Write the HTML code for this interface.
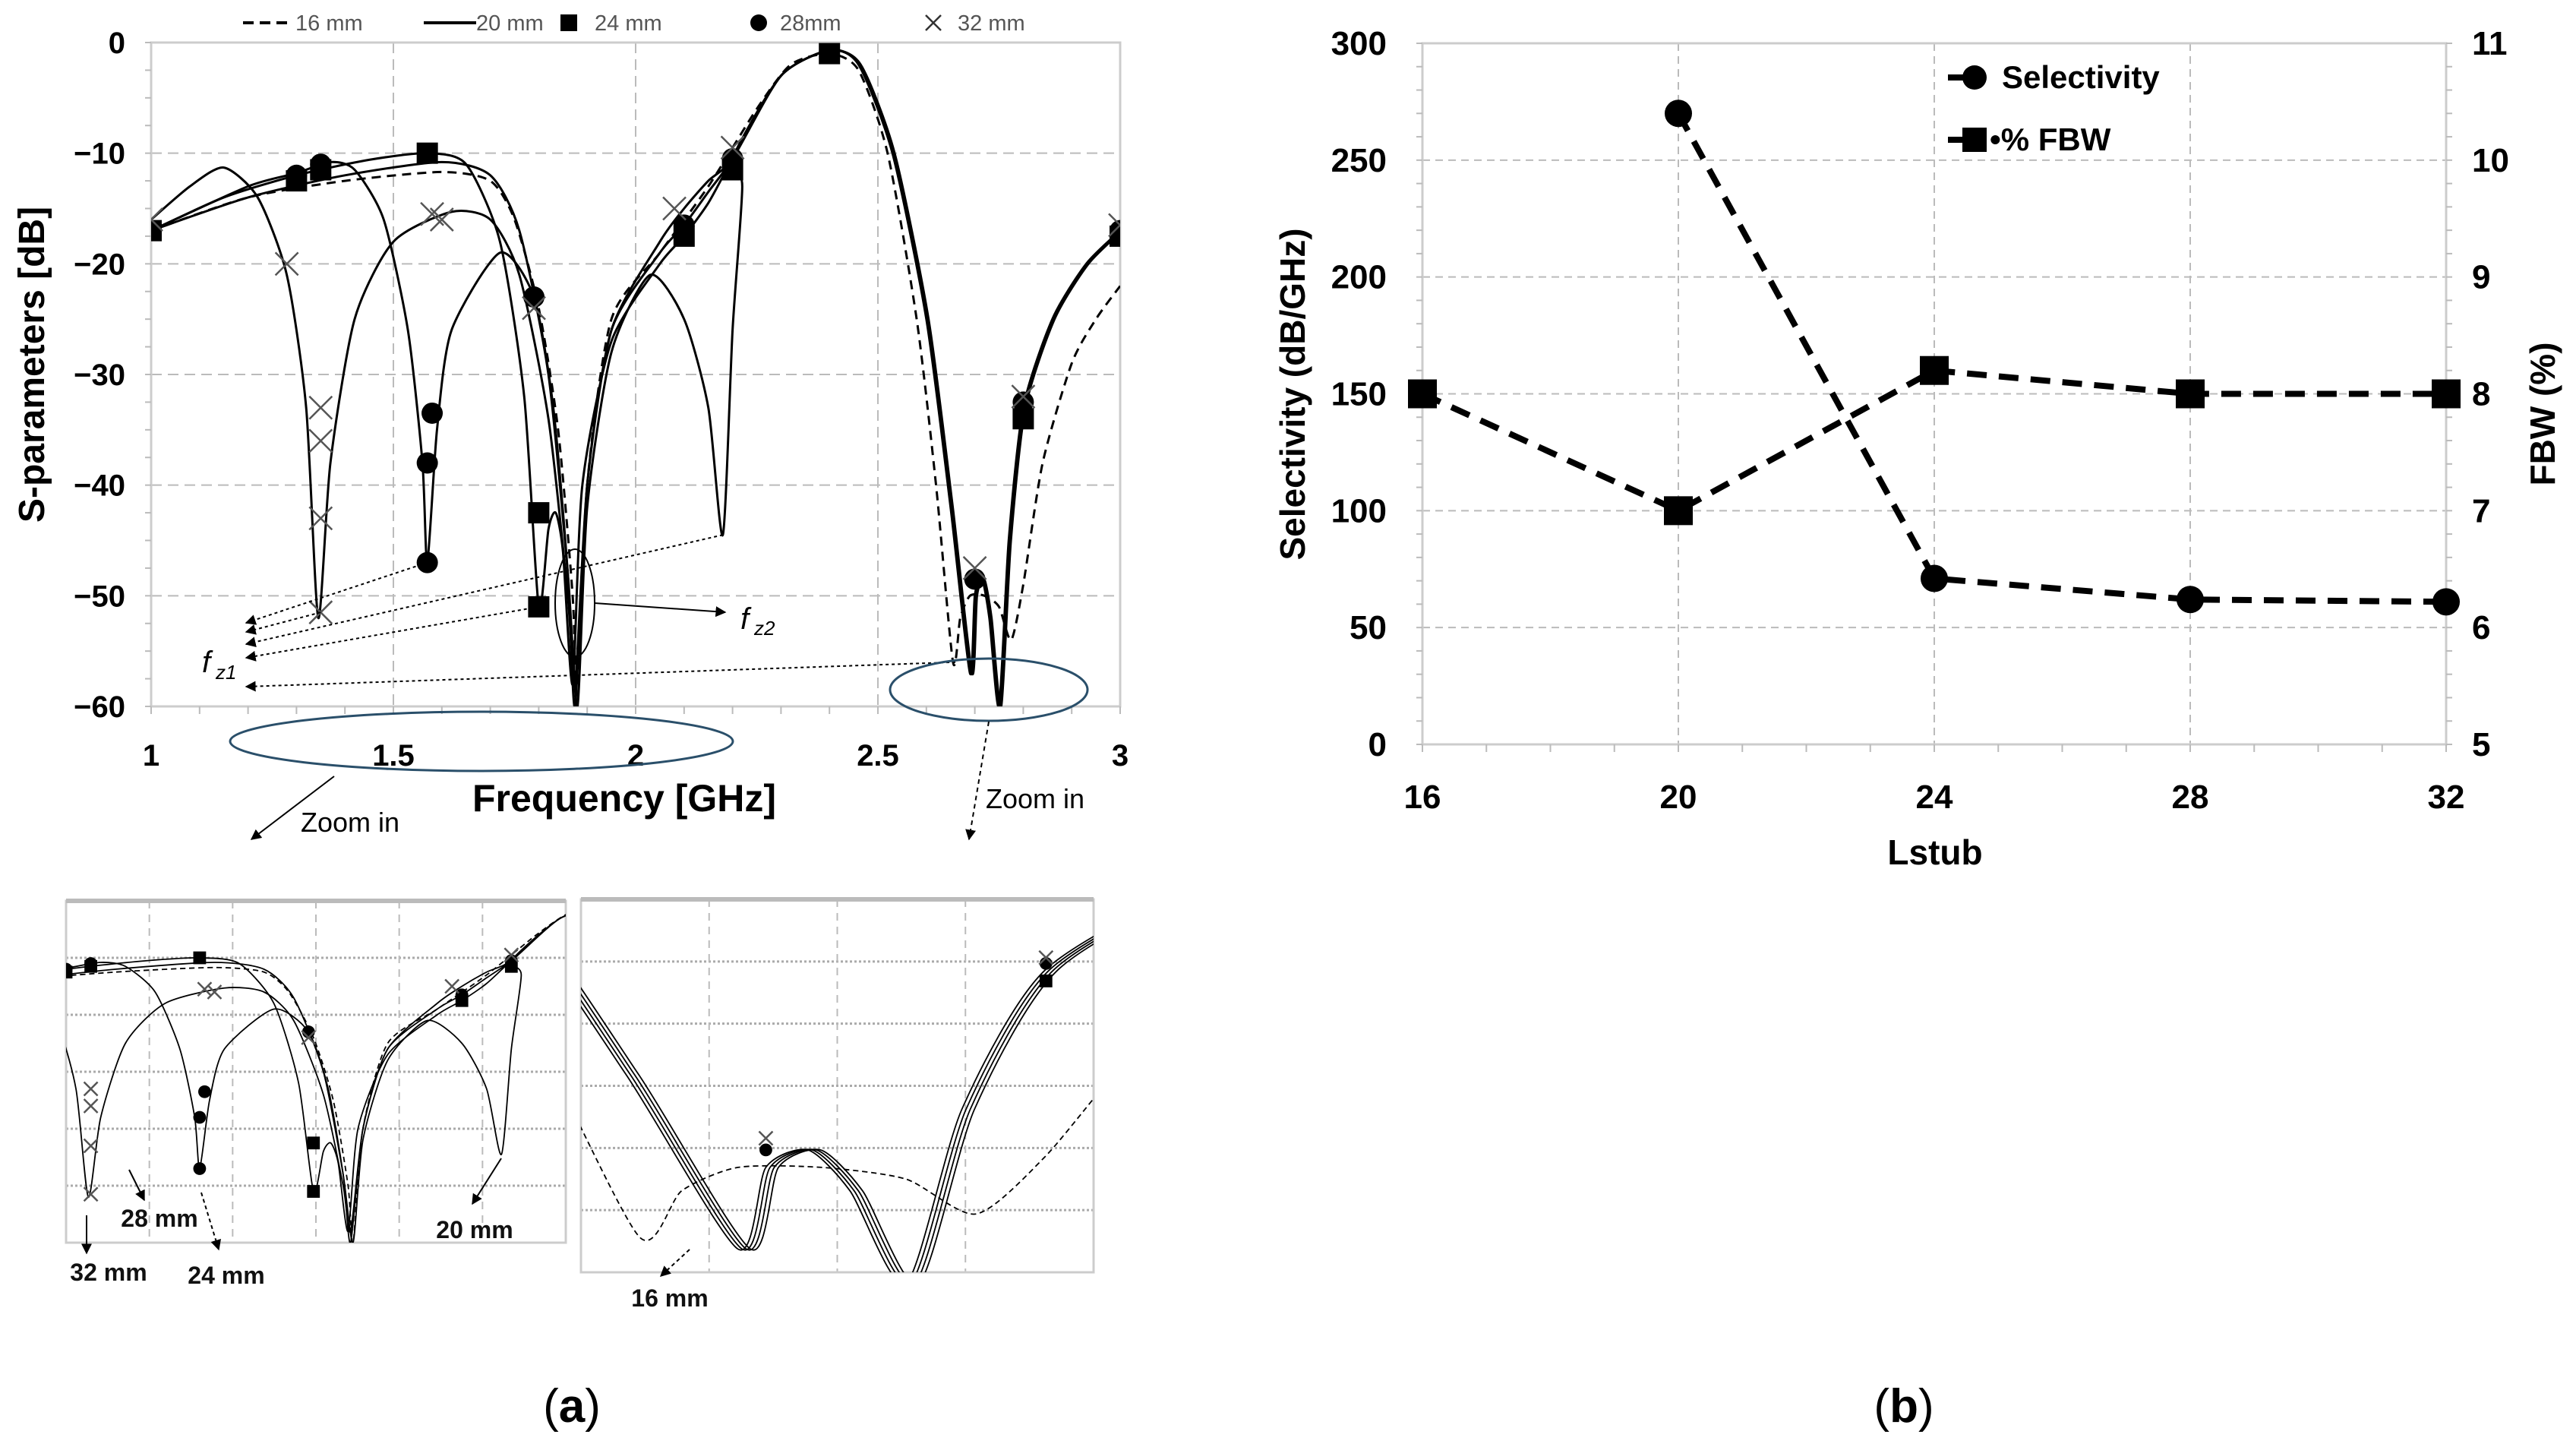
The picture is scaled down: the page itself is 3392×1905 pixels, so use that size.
<!DOCTYPE html>
<html><head><meta charset="utf-8"><style>
html,body{margin:0;padding:0;background:#fff}
svg{display:block}
text{font-family:"Liberation Sans",sans-serif}
</style></head><body>
<svg id="svg" width="3392" height="1905" viewBox="0 0 3392 1905" xmlns="http://www.w3.org/2000/svg">
<defs>
<marker id="ah" viewBox="0 0 10 10" refX="9" refY="5" markerWidth="7" markerHeight="7" orient="auto"><path d="M0,0L10,5L0,10z" fill="#000"/></marker>
<clipPath id="clipA"><rect x="199" y="40" width="1276" height="890"/></clipPath>
<clipPath id="clipL"><rect x="87" y="1186" width="658" height="450"/></clipPath>
<clipPath id="clipR"><rect x="765" y="1184" width="675" height="491"/></clipPath>
</defs>
<g id="gA"></g>
<g id="gL"></g>
<g id="gR"></g>
<g id="gB"></g>
<text x="753" y="1872" font-size="62" text-anchor="middle" font-family="Liberation Serif">(<tspan font-weight="bold">a</tspan>)</text>
<text x="2507" y="1872" font-size="62" text-anchor="middle" font-family="Liberation Serif">(<tspan font-weight="bold">b</tspan>)</text>
</svg>
<script>
// ---- Chart (a) data ----
const tail = [[2.2,-10.5],[2.3,-3],[2.4,-0.7],[2.46,-2],[2.53,-10],[2.6,-25],[2.65,-42],[2.69,-57],[2.7,-50],[2.715,-48.5],[2.73,-52],[2.75,-60],[2.77,-45],[2.8,-33],[2.86,-25],[2.93,-20],[3,-17]];
const s16 = [[1,-17],[1.2,-14],[1.4,-12.5],[1.6,-11.7],[1.7,-12.5],[1.75,-16],[1.8,-24],[1.84,-35],[1.87,-50],[1.88,-60],[1.9,-40],[1.95,-25],[2.05,-19],[2.15,-13],[2.25,-6],[2.32,-2],[2.4,-1],[2.46,-2.5],[2.52,-10],[2.58,-25],[2.62,-40],[2.655,-56],[2.67,-52],[2.69,-50],[2.72,-50],[2.75,-51],[2.775,-54],[2.8,-49],[2.84,-38],[2.9,-29],[2.95,-25],[3,-22]];
const s20 = [[1,-17],[1.2,-14],[1.4,-12],[1.6,-10.8],[1.7,-12],[1.76,-17],[1.82,-30],[1.86,-48],[1.88,-60],[1.9,-42],[1.95,-28],[2.03,-21],[2.1,-25],[2.15,-33],[2.18,-44.5],[2.2,-26],[2.22,-13]];
const s24 = [[1,-17],[1.15,-14],[1.3,-12],[1.45,-10.6],[1.57,-10],[1.65,-11],[1.72,-18],[1.77,-32],[1.8,-51],[1.82,-44],[1.835,-42.5],[1.85,-46],[1.87,-58],[1.89,-40],[1.95,-27],[2.05,-20],[2.1,-17.5],[2.15,-14.5]];
const s28 = [[1,-17],[1.2,-13],[1.3,-11.8],[1.37,-10.8],[1.42,-11.5],[1.48,-16],[1.53,-26],[1.56,-38],[1.57,-47],[1.59,-35],[1.62,-26],[1.72,-19],[1.79,-23],[1.83,-33],[1.86,-48],[1.875,-60],[1.9,-40],[1.95,-26],[2.05,-19],[2.1,-16.5],[2.15,-13.5]];
const s32 = [[1,-16],[1.08,-13],[1.15,-11.3],[1.22,-14],[1.28,-21],[1.32,-33],[1.345,-52],[1.37,-38],[1.42,-25],[1.5,-18],[1.62,-15.3],[1.7,-16],[1.76,-21],[1.82,-34],[1.86,-50],[1.875,-58],[1.9,-40],[1.95,-26],[2.05,-18],[2.1,-15],[2.15,-12.5]];
const sqMarks = [[1,-17],[1.3,-12.5],[1.35,-11.5],[1.57,-10],[1.8,-42.5],[1.8,-51],[2.1,-17.5],[2.2,-11.5],[2.4,-1],[2.8,-34],[3,-17.5]];
const ciMarks = [[1.3,-12],[1.35,-11],[1.57,-38],[1.58,-33.5],[1.57,-47],[1.79,-23],[2.1,-16.5],[2.2,-10.5],[2.7,-48.5],[2.8,-32.5],[3,-17]];
const xMarks = [[1,-16],[1.28,-20],[1.35,-33],[1.35,-36],[1.35,-43],[1.35,-51.5],[1.58,-15.5],[1.6,-16],[1.79,-24],[2.08,-15],[2.2,-9.5],[2.7,-47.5],[2.8,-32],[3,-16.5]];
const xTicksA = [1,1.5,2,2.5,3];
const yTicksA = [0,-10,-20,-30,-40,-50,-60];
// ---- Chart (b) data ----
const lstub = [16,20,24,28,32];
const selectivity = [null,270,71,62,61];
const fbw = [8,7,8.2,8,8];
const yTicksB = [0,50,100,150,200,250,300];
const yTicksR = [5,6,7,8,9,10,11];

const NS="http://www.w3.org/2000/svg";
function el(p,tag,at,txt){const e=document.createElementNS(NS,tag);for(const k in at)e.setAttribute(k,at[k]);if(txt!==undefined)e.textContent=txt;p.appendChild(e);return e;}
function smooth(pts){let d="M"+pts[0][0]+","+pts[0][1];for(let i=0;i<pts.length-1;i++){const p0=pts[Math.max(0,i-1)],p1=pts[i],p2=pts[i+1],p3=pts[Math.min(pts.length-1,i+2)];const t=0.12;d+=" C"+(p1[0]+(p2[0]-p0[0])*t)+","+(p1[1]+(p2[1]-p0[1])*t)+" "+(p2[0]-(p3[0]-p1[0])*t)+","+(p2[1]-(p3[1]-p1[1])*t)+" "+p2[0]+","+p2[1];}return d;}
function shiftTail(k){return tail.map(q=>[q[0]>2.45?q[0]+k*0.0015:q[0],q[1]]);}
function drawSeries(g,X,Y,sc){
  const defs=[[s16,"16",true],[s20.concat(shiftTail(0)),"20",false],[s24.concat(shiftTail(1)),"24",false],[s28.concat(shiftTail(2)),"28",false],[s32.concat(shiftTail(3)),"32",false]];
  defs.forEach(([s,n,dash])=>{const p=el(g,"path",{d:smooth(s.map(q=>[X(q[0]),Y(q[1])])),fill:"none",stroke:"#000","stroke-width":3*sc,"stroke-dasharray":dash?(12*sc)+","+(8*sc):"none"});
  
  });
  sqMarks.forEach(m=>{const r=el(g,"rect",{x:X(m[0])-14*sc,y:Y(m[1])-14*sc,width:28*sc,height:28*sc,fill:"#000"});
  
  });
  ciMarks.forEach(m=>{const c=el(g,"circle",{cx:X(m[0]),cy:Y(m[1]),r:14*sc,fill:"#000"});
  
  });
  xMarks.forEach(m=>{const x=X(m[0]),y=Y(m[1]),s=15*sc;const c=el(g,"path",{d:`M${x-s},${y-s}L${x+s},${y+s}M${x-s},${y+s}L${x+s},${y-s}`,stroke:"#555","stroke-width":2.5});
  
  });
}
// ---- Chart (a) ----
const gA=document.getElementById('gA');
const XA=f=>199+(f-1)/2*1276, YA=v=>56+(-v)/60*874;
[-10,-20,-30,-40,-50].forEach(v=>el(gA,"line",{x1:199,x2:1475,y1:YA(v),y2:YA(v),stroke:"#bbb","stroke-width":2,"stroke-dasharray":"14,8"}));
[1.5,2,2.5].forEach(f=>el(gA,"line",{x1:XA(f),x2:XA(f),y1:56,y2:930,stroke:"#bbb","stroke-width":2,"stroke-dasharray":"14,8"}));
el(gA,"rect",{x:199,y:56,width:1276,height:874,fill:"none",stroke:"#ccc","stroke-width":3});
for(let v=0;v>=-60;v-=2.5){el(gA,"line",{x1:199,x2:191,y1:YA(v),y2:YA(v),stroke:"#bbb","stroke-width":2});}
for(let f=1;f<=3.001;f+=0.1){el(gA,"line",{x1:XA(f),x2:XA(f),y1:930,y2:940,stroke:"#bbb","stroke-width":2});}
yTicksA.forEach(v=>{const t=el(gA,"text",{x:165,y:YA(v)+14,"font-size":40,"font-weight":"bold","text-anchor":"end"},v===0?"0":"\u2212"+(-v));

});
xTicksA.forEach(f=>{const t=el(gA,"text",{x:XA(f),y:1008,"font-size":40,"font-weight":"bold","text-anchor":"middle"},String(f));

});
const gAc=el(gA,"g",{"clip-path":"url(#clipA)"});
drawSeries(gAc,XA,YA,1);
// annotations
const ann=el(gA,"g",{});
[[[1.35,-51.5],832],[[1.57,-47],820],[[2.18,-44.5],848],[[1.8,-51],866],[[2.66,-56],904]].forEach(([p,y])=>{
 el(ann,"line",{x1:XA(p[0]),y1:YA(p[1]),x2:324,y2:y,stroke:"#000","stroke-width":2,"stroke-dasharray":"4,4","marker-end":"url(#ah)"});});
el(gA,"text",{x:266,y:885,"font-size":40,"font-style":"italic","font-family":"Liberation Serif",},"f");
el(gA,"text",{x:284,y:894,"font-size":26,"font-style":"italic","font-family":"Liberation Serif"},"z1");
el(gA,"ellipse",{cx:757,cy:794,rx:26,ry:71,fill:"none",stroke:"#000","stroke-width":2,});
el(gA,"line",{x1:783,y1:794,x2:955,y2:806,stroke:"#000","stroke-width":2,"marker-end":"url(#ah)"});
el(gA,"text",{x:975,y:828,"font-size":40,"font-style":"italic","font-family":"Liberation Serif",},"f");
el(gA,"text",{x:993,y:836,"font-size":26,"font-style":"italic","font-family":"Liberation Serif"},"z2");
el(gA,"ellipse",{cx:634,cy:976,rx:331,ry:39,fill:"none",stroke:"#2a4f6a","stroke-width":3,});
el(gA,"ellipse",{cx:1302,cy:908,rx:130,ry:41,fill:"none",stroke:"#2a4f6a","stroke-width":3,});
el(gA,"line",{x1:440,y1:1022,x2:331,y2:1105,stroke:"#000","stroke-width":2,"marker-end":"url(#ah)"});
el(gA,"line",{x1:1302,y1:950,x2:1276,y2:1105,stroke:"#000","stroke-width":2,"stroke-dasharray":"6,5","marker-end":"url(#ah)"});
el(gA,"text",{x:396,y:1095,"font-size":36,},"Zoom in");
el(gA,"text",{x:1298,y:1064,"font-size":36,},"Zoom in");
el(gA,"text",{x:822,y:1068,"font-size":50,"font-weight":"bold","text-anchor":"middle",},"Frequency [GHz]");
el(gA,"text",{x:0,y:0,"font-size":48,"font-weight":"bold","text-anchor":"middle",transform:"translate(58,480) rotate(-90)",},"S-parameters [dB]");
// legend a
const lg=el(gA,"g",{});
el(lg,"line",{x1:320,x2:378,y1:30,y2:30,stroke:"#000","stroke-width":4,"stroke-dasharray":"14,8"});
el(lg,"text",{x:389,y:40,"font-size":29,fill:"#555"},"16 mm");
el(lg,"line",{x1:558,x2:627,y1:30,y2:30,stroke:"#000","stroke-width":4});
el(lg,"text",{x:627,y:40,"font-size":29,fill:"#555"},"20 mm");
el(lg,"rect",{x:738,y:19,width:22,height:22,fill:"#000"});
el(lg,"text",{x:783,y:40,"font-size":29,fill:"#555"},"24 mm");
el(lg,"circle",{cx:999,cy:30,r:11,fill:"#000"});
el(lg,"text",{x:1027,y:40,"font-size":29,fill:"#555"},"28mm");
el(lg,"path",{d:"M1219,20L1239,40M1219,40L1239,20",stroke:"#333","stroke-width":2.5});
el(lg,"text",{x:1261,y:40,"font-size":29,fill:"#555"},"32 mm");
// ---- Insets ----
function inset(g,x0,y0,w,h,fmin,fmax,dmin,dmax,clip,nv,nh){
 const X=f=>x0+(f-fmin)/(fmax-fmin)*w, Y=v=>y0+(dmax-v)/(dmax-dmin)*h;
 for(let i=1;i<nh;i++)el(g,"line",{x1:x0,x2:x0+w,y1:y0+h*i/nh,y2:y0+h*i/nh,stroke:"#aaa","stroke-width":3,"stroke-dasharray":"3,3"});
 for(let i=1;i<nv;i++)el(g,"line",{x1:x0+w*i/nv,x2:x0+w*i/nv,y1:y0,y2:y0+h,stroke:"#bbb","stroke-width":2,"stroke-dasharray":"10,8"});
 el(g,"rect",{x:x0,y:y0,width:w,height:h,fill:"none",stroke:"#ccc","stroke-width":3});
 el(g,"line",{x1:x0,x2:x0+w,y1:y0,y2:y0,stroke:"#bbb","stroke-width":6});
 const c=el(g,"g",{"clip-path":"url(#"+clip+")"});drawSeries(c,X,Y,0.6);
}
const gL=document.getElementById('gL'),gR=document.getElementById('gR');
inset(gL,87,1186,658,450,1.3,2.31,-60,0,"clipL",6,6);
inset(gR,765,1184,675,491,2.634,2.817,-59,-27,"clipR",4,6);
el(gL,"line",{x1:114,y1:1600,x2:114,y2:1650,stroke:"#000","stroke-width":2,"marker-end":"url(#ah)"});
el(gL,"line",{x1:170,y1:1540,x2:190,y2:1580,stroke:"#000","stroke-width":2,"marker-end":"url(#ah)"});
el(gL,"line",{x1:265,y1:1570,x2:288,y2:1645,stroke:"#000","stroke-width":2,"stroke-dasharray":"5,4","marker-end":"url(#ah)"});
el(gL,"line",{x1:660,y1:1525,x2:622,y2:1585,stroke:"#000","stroke-width":2,"marker-end":"url(#ah)"});
el(gR,"line",{x1:908,y1:1645,x2:870,y2:1680,stroke:"#000","stroke-width":2,"stroke-dasharray":"5,4","marker-end":"url(#ah)"});
[["32 mm",143,1686],["28 mm",210,1615],["24 mm",298,1690],["20 mm",625,1630],["16 mm",882,1720]].forEach(([t,x,y])=>{const e=el(gL,"text",{x:x,y:y,"font-size":32,"font-weight":"bold","text-anchor":"middle",fill:"#111"},t);

});
// ---- Chart (b) ----
const gB=document.getElementById('gB');
const XB=l=>1873+(l-16)/16*1348, YL=v=>980-v/300*923, YR=v=>980-(v-5)/6*923;
const nf='"Liberation Sans Narrow","Liberation Sans",sans-serif';
yTicksB.forEach(v=>{if(v>0&&v<300)el(gB,"line",{x1:1873,x2:3221,y1:YL(v),y2:YL(v),stroke:"#bbb","stroke-width":2,"stroke-dasharray":"10,7"});});
lstub.forEach(l=>{if(l>16&&l<32)el(gB,"line",{x1:XB(l),x2:XB(l),y1:57,y2:980,stroke:"#bbb","stroke-width":2,"stroke-dasharray":"10,7"});});
el(gB,"rect",{x:1873,y:57,width:1348,height:923,fill:"none",stroke:"#ccc","stroke-width":3});
for(let v=0;v<=300;v+=10)el(gB,"line",{x1:1873,x2:1865,y1:YL(v),y2:YL(v),stroke:"#bbb","stroke-width":2});
for(let v=5;v<=11;v+=0.2)el(gB,"line",{x1:3221,x2:3229,y1:YR(v),y2:YR(v),stroke:"#bbb","stroke-width":2});
for(let l=16;l<=32;l++)el(gB,"line",{x1:XB(l),x2:XB(l),y1:980,y2:990,stroke:"#bbb","stroke-width":2});
yTicksB.forEach(v=>{const t=el(gB,"text",{x:1826,y:YL(v)+15,"font-size":44,"font-weight":"bold","text-anchor":"end","font-family":nf},String(v));

});
yTicksR.forEach(v=>{const t=el(gB,"text",{x:3255,y:YR(v)+15,"font-size":44,"font-weight":"bold","font-family":nf},String(v));

});
lstub.forEach(l=>{const t=el(gB,"text",{x:XB(l),y:1064,"font-size":44,"font-weight":"bold","text-anchor":"middle","font-family":nf},String(l));

});
let sp=[];lstub.forEach((l,i)=>{if(selectivity[i]!==null)sp.push([XB(l),YL(selectivity[i])]);});
let fp=lstub.map((l,i)=>[XB(l),YR(fbw[i])]);
const ls=el(gB,"polyline",{points:sp.map(p=>p.join(",")).join(" "),fill:"none",stroke:"#000","stroke-width":8,"stroke-dasharray":"26,16"});


const lf=el(gB,"polyline",{points:fp.map(p=>p.join(",")).join(" "),fill:"none",stroke:"#000","stroke-width":8,"stroke-dasharray":"26,16"});


sp.forEach(p=>{const c=el(gB,"circle",{cx:p[0],cy:p[1],r:18,fill:"#000"});

});
fp.forEach(p=>{const r=el(gB,"rect",{x:p[0]-19,y:p[1]-19,width:38,height:38,fill:"#000"});

});
const lb=el(gB,"g",{});
el(lb,"line",{x1:2565,x2:2600,y1:102,y2:102,stroke:"#000","stroke-width":8});
el(lb,"circle",{cx:2600,cy:102,r:16,fill:"#000"});
el(lb,"text",{x:2636,y:116,"font-size":42,"font-weight":"bold","font-family":nf},"Selectivity");
el(lb,"line",{x1:2565,x2:2600,y1:184,y2:184,stroke:"#000","stroke-width":8});
el(lb,"rect",{x:2584,y:168,width:32,height:32,fill:"#000"});
el(lb,"text",{x:2620,y:198,"font-size":42,"font-weight":"bold","font-family":nf},"\u2022% FBW");
el(gB,"text",{x:2548,y:1138,"font-size":46,"font-weight":"bold","text-anchor":"middle","font-family":nf,},"Lstub");
el(gB,"text",{x:0,y:0,"font-size":46,"font-weight":"bold","text-anchor":"middle",transform:"translate(1718,519) rotate(-90)",},"Selectivity (dB/GHz)");
el(gB,"text",{x:0,y:0,"font-size":46,"font-weight":"bold","text-anchor":"middle",transform:"translate(3364,545) rotate(-90)",},"FBW (%)");
</script>
</body></html>
